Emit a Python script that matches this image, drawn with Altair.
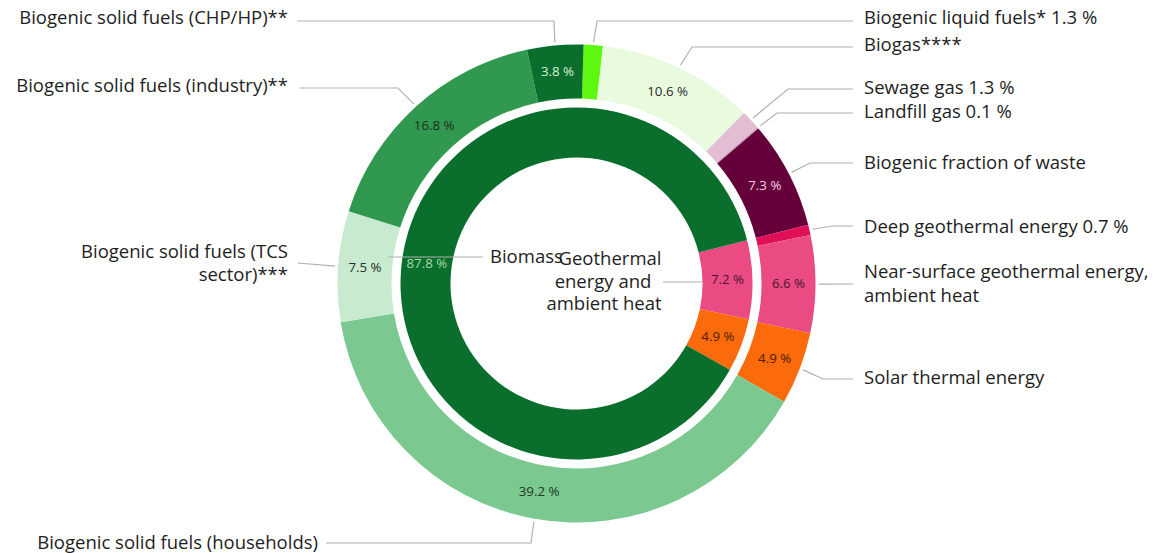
import math
import altair as alt
import pandas as pd

W, H = 1153, 553
CX, CY = 576.5, 283.5
R_OUT_OUT, R_OUT_IN = 239, 185
R_IN_OUT, R_IN_IN = 176, 126
OFFSET_DEG = 1.7
FONT = "Open Sans"
LABEL_SIZE = 18.5
PCT_SIZE = 13.3

# ---------------- data ----------------
outer_names = [
    "Biogenic liquid fuels", "Biogas", "Sewage gas", "Landfill gas",
    "Biogenic fraction of waste", "Deep geothermal energy",
    "Near-surface geothermal energy, ambient heat", "Solar thermal energy",
    "Biogenic solid fuels (households)", "Biogenic solid fuels (TCS sector)",
    "Biogenic solid fuels (industry)", "Biogenic solid fuels (CHP/HP)",
]
outer_values = [1.3, 10.6, 1.3, 0.1, 7.3, 0.7, 6.6, 4.9, 39.2, 7.5, 16.8, 3.8]
outer_show_pct = [False, True, False, False, True, False, True, True, True, True, True, True]
outer_labels = [
    "Biogenic liquid fuels* 1.3 %", "Biogas****", "Sewage gas 1.3 %",
    "Landfill gas 0.1 %", "Biogenic fraction of waste",
    "Deep geothermal energy 0.7 %", "Near-surface geothermal energy,\nambient heat",
    "Solar thermal energy", "Biogenic solid fuels (households)",
    "Biogenic solid fuels (TCS\nsector)***", "Biogenic solid fuels (industry)**",
    "Biogenic solid fuels (CHP/HP)**",
]
outer_colors = ["#5ef70f", "#e8fbdf", "#e3bdd3", "#c9a0bb", "#66003a", "#e01058",
                "#ea4b83", "#fb6a0b", "#7bc891", "#c8ebcf", "#31994f", "#0a6e2c"]
outer_text_colors = ["#222222", "#2a2a2a", "#222222", "#222222", "#f2d2e2", "#222222",
                     "#4a1530", "#4a2000", "#1f3a26", "#2a2a2a", "#1c2e1f", "#d9eed9"]

inner_names = ["Geothermal energy and ambient heat", "Solar thermal energy", "Biomass"]
inner_values = [7.2, 4.9, 87.8]
inner_colors = ["#ea4b83", "#fb6a0b", "#0a6e2c"]
inner_text_colors = ["#4a1530", "#4a2000", "#a3dbab"]

# center captions of the inner ring
center_lines = ["Biomass", "Geothermal", "energy and", "ambient heat"]

# label layout (annotation placement only)
label_side = ["R", "R", "R", "R", "R", "R", "R", "R", "L", "L", "L", "L"]
label_y = [18, 45, 88, 112, 163, 227, 272, 378, 543, 251.5, 86, 18]    # first text line
line_y = [21, 47, 89, 113, 163, 226, 284, 379, 543, 263, 88, 21]       # horizontal leader
label_x = [864, 864, 864, 864, 864, 864, 864, 864, 318, 288, 288, 288]
line_end_x = [853, 853, 853, 853, 853, 853, 853, 853, 326, 298, 300, 297]
elbow_x = [597, 692, 788, 777, 810, 833, None, 823, 531, None, 398, 554]
center_x = [490, 610, 603, 604]
center_y = [257, 259, 281.5, 304]
center_align = ["L", "C", "C", "C"]

# ---------------- derived tables ----------------
off = math.radians(OFFSET_DEG)
tot_out = sum(outer_values)
outer_df = pd.DataFrame({
    "idx": list(range(len(outer_values))),
    "name": outer_names,
    "value": outer_values,
    "color": outer_colors,
    "tcolor": outer_text_colors,
    "pct": [f"{v:.1f} %" if s else "" for v, s in zip(outer_values, outer_show_pct)],
})

# inner ring starts where the outer geothermal segments start
inner_start = off + 2 * math.pi * sum(outer_values[:5]) / tot_out
inner_df = pd.DataFrame({
    "idx": list(range(len(inner_values))),
    "name": inner_names,
    "value": inner_values,
    "color": inner_colors,
    "tcolor": inner_text_colors,
    "pct": [f"{v:.1f} %" for v in inner_values],
})

# leader lines: start on the ring at the mid angle of each segment
rows = []
cum = 0.0
for i, v in enumerate(outer_values):
    mid = off + 2 * math.pi * (cum + v / 2) / tot_out
    cum += v
    r = R_OUT_OUT + 3
    sx, sy = CX + r * math.sin(mid), CY - r * math.cos(mid)
    pts = [(sx, sy)]
    if elbow_x[i] is not None:
        pts.append((elbow_x[i], line_y[i]))
    pts.append((line_end_x[i], line_y[i]))
    for k, (px, py) in enumerate(pts):
        rows.append({"seg": f"o{i}", "k": k, "x": px, "y": py})

# center captions' leader lines
rows += [
    {"seg": "c0", "k": 0, "x": CX - (R_IN_OUT + 12), "y": 257},
    {"seg": "c0", "k": 1, "x": 483, "y": 257},
    {"seg": "c1", "k": 0, "x": CX + R_IN_IN, "y": 282},
    {"seg": "c1", "k": 1, "x": 663, "y": 282},
]
lines_df = pd.DataFrame(rows)

labels_df = pd.DataFrame({
    "text": outer_labels, "x": label_x, "y": label_y, "side": label_side,
})
center_df = pd.DataFrame({
    "text": center_lines, "x": center_x, "y": center_y, "side": center_align,
})

# ---------------- charts ----------------
xs = alt.X("x:Q", scale=alt.Scale(domain=[0, W], range=[0, W], nice=False, zero=False), axis=None)
ys = alt.Y("y:Q", scale=alt.Scale(domain=[0, H], range=[0, H], nice=False, zero=False), axis=None)

outer_base = alt.Chart(outer_df).encode(
    theta=alt.Theta("value:Q", stack=True,
                    scale=alt.Scale(range=[off, off + 2 * math.pi])),
    order=alt.Order("idx:Q"),
    x=alt.value(CX), y=alt.value(CY),
)
outer_arc = outer_base.mark_arc(outerRadius=R_OUT_OUT, innerRadius=R_OUT_IN).encode(
    color=alt.Color("color:N", scale=None))
outer_txt = outer_base.mark_text(radius=(R_OUT_OUT + R_OUT_IN) / 2, font=FONT,
                                 fontSize=PCT_SIZE).encode(
    text="pct:N", color=alt.Color("tcolor:N", scale=None))
outer_layer = alt.layer(outer_arc, outer_txt)

inner_base = alt.Chart(inner_df).encode(
    theta=alt.Theta("value:Q", stack=True,
                    scale=alt.Scale(range=[inner_start, inner_start + 2 * math.pi])),
    order=alt.Order("idx:Q"),
    x=alt.value(CX), y=alt.value(CY),
)
inner_arc = inner_base.mark_arc(outerRadius=R_IN_OUT, innerRadius=R_IN_IN).encode(
    color=alt.Color("color:N", scale=None))
inner_txt = inner_base.mark_text(radius=(R_IN_OUT + R_IN_IN) / 2, font=FONT,
                                 fontSize=PCT_SIZE).encode(
    text="pct:N", color=alt.Color("tcolor:N", scale=None))
inner_layer = alt.layer(inner_arc, inner_txt)

lines = alt.Chart(lines_df).mark_line(color="#b0b0b0", strokeWidth=1.2).encode(
    x=xs, y=ys, detail="seg:N", order="k:Q")

lab_r = alt.Chart(labels_df).transform_filter(alt.datum.side == "R").mark_text(
    align="left", baseline="middle", font=FONT, fontSize=LABEL_SIZE, color="#1e1e1e",
    lineBreak="\n", lineHeight=24).encode(x=xs, y=ys, text="text:N")
lab_l = alt.Chart(labels_df).transform_filter(alt.datum.side == "L").mark_text(
    align="right", baseline="middle", font=FONT, fontSize=LABEL_SIZE, color="#1e1e1e",
    lineBreak="\n", lineHeight=23).encode(x=xs, y=ys, text="text:N")
cen_l = alt.Chart(center_df).transform_filter(alt.datum.side == "L").mark_text(
    align="left", baseline="middle", font=FONT, fontSize=LABEL_SIZE, color="#1e1e1e"
).encode(x=xs, y=ys, text="text:N")
cen_c = alt.Chart(center_df).transform_filter(alt.datum.side == "C").mark_text(
    align="center", baseline="middle", font=FONT, fontSize=LABEL_SIZE, color="#1e1e1e"
).encode(x=xs, y=ys, text="text:N")

chart = alt.layer(
    outer_layer, inner_layer, lines, lab_r, lab_l, cen_l, cen_c
).resolve_scale(theta="independent").properties(
    width=W, height=H, padding=0,
    autosize=alt.AutoSizeParams(type="none"),
    background="white",
).configure_view(stroke=None)

chart.save("out.html", embed_options={"renderer": "svg", "actions": False})
